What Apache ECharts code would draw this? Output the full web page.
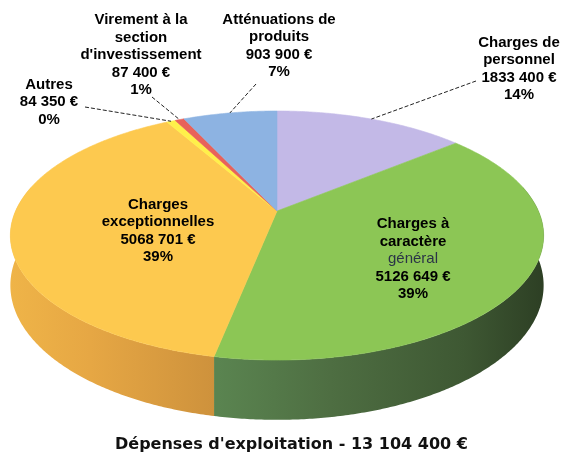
<!DOCTYPE html>
<html><head><meta charset="utf-8">
<script src="https://cdn.jsdelivr.net/npm/echarts@6/dist/echarts.min.js"></script>
<style>html,body{margin:0;padding:0;background:#fff}#c{width:563px;height:460px}</style>
</head><body><div id="c"></div>
<script>
// ---- data ----
const categories = ['Charges de personnel', 'Charges à caractère général', 'Charges exceptionnelles', 'Autres', "Virement à la section d'investissement", 'Atténuations de produits'];
const values = [1833400, 5126649, 5068701, 84350, 87400, 903900];
const percentLabels = ['14%', '39%', '39%', '0%', '1%', '7%'];
const labelNames = ['Charges de\npersonnel', 'Charges à\ncaractère\n{n|général}', 'Charges\nexceptionnelles', 'Autres', "Virement à la\nsection\nd'investissement", 'Atténuations de\nproduits'];
const titleText = "Dépenses d'exploitation - 13 104 400 €";

// ---- styles / layout ----
const topColors = ['#c3b9e7', '#8cc655', '#fdc94f', '#fff04a', '#e8625a', '#8db3e2'];
const wallStops = [
  [[0, '#9a8fc0'], [1, '#7a70a0']],
  [[0, '#5a8450'], [0.39, '#5a8450'], [0.6, '#4e6e42'], [0.85, '#3e5833'], [1, '#2d3f24']],
  [[0, '#efb448'], [0.15, '#e6a744'], [0.39, '#cd913c'], [1, '#c08030']],
  [[0, '#e0cf30'], [1, '#c0b020']],
  [[0, '#c04a44'], [1, '#a03a34']],
  [[0, '#6d90c0'], [1, '#5a7aa8']]
];
const L = {
  cx: 277, cy: 211, rx: 261.4, ry: 119.7, depth: 48, persp: 0.197,
  font: 'Liberation Sans, Arial, sans-serif', fontSize: 15, lineHeight: 17.5,
  labels: [
    { x: 519, y: 69, lead: [476, 81] },
    { x: 413, y: 259 },
    { x: 158, y: 231 },
    { x: 49, y: 102, lead: [85, 107] },
    { x: 141, y: 55, lead: [152, 97] },
    { x: 279, y: 46, lead: [256, 84] }
  ]
};

function fmt(v) { const s = String(v); return s.slice(0, -3) + ' ' + s.slice(-3) + ' €'; }

const total = values.reduce((a, b) => a + b, 0);
const angles = [];
(function () {
  let acc = 90;
  values.forEach(v => { const sw = v / total * 360; angles.push([acc, acc - sw]); acc -= sw; });
})();

// perspective projection of a point on the (tilted) disc
function P(tDeg, r, dz) {
  const t = tDeg * Math.PI / 180;
  const c = Math.cos(t) * r, s = Math.sin(t) * r;
  const w = 1 / (1 + L.persp * s);
  return [L.cx + L.rx * c * w, L.cy - L.ry * s * w + (dz || 0) * w];
}

function renderItem(params, api) {
  const i = params.dataIndex;
  const [tS, tE] = angles[i];
  const children = [];
  // walls (front, visible part)
  for (let k = -1; k <= 1; k++) {
    const lo = Math.max(tE, -192 + 360 * k), hi = Math.min(tS, 12 + 360 * k);
    if (lo < hi) {
      const topPts = [], botPts = [];
      const n = Math.max(2, Math.ceil((hi - lo) / 0.5));
      for (let j = 0; j <= n; j++) {
        const t = hi - (hi - lo) * j / n;
        topPts.push(P(t, 1, 0));
        botPts.push(P(t, 1, L.depth));
      }
      const pts = topPts.concat(botPts.reverse());
      children.push({
        type: 'polygon', z2: 1,
        shape: { points: pts },
        style: {
          fill: { type: 'linear', x: 10, y: 0, x2: 544, y2: 0, global: true,
            colorStops: wallStops[i].map(s => ({ offset: s[0], color: s[1] })) },
          stroke: null
        }
      });
    }
  }
  // top face
  const pts = [[L.cx, L.cy]];
  const n = Math.max(2, Math.ceil((tS - tE) / 0.5));
  for (let j = 0; j <= n; j++) pts.push(P(tS - (tS - tE) * j / n, 1, 0));
  children.push({
    type: 'polygon', z2: 5,
    shape: { points: pts },
    style: { fill: topColors[i], stroke: topColors[i], lineWidth: 0.6 }
  });
  // leader line
  const lab = L.labels[i];
  if (lab.lead) {
    const end = P((tS + tE) / 2, 1, 0);
    children.push({
      type: 'polyline', z2: 10,
      shape: { points: [lab.lead, end] },
      style: { stroke: '#222', lineWidth: 1, lineDash: [4, 2], fill: null }
    });
  }
  // label
  children.push({
    type: 'text', z2: 20, x: lab.x, y: lab.y,
    style: {
      text: labelNames[i] + '\n' + fmt(api.value(0)) + '\n' + percentLabels[i],
      fill: '#000', fontFamily: L.font, fontSize: L.fontSize, fontWeight: 'bold',
      lineHeight: L.lineHeight, align: 'center', verticalAlign: 'middle',
      rich: { n: { fontFamily: L.font, fontSize: L.fontSize, fontWeight: 'normal', fill: '#2b3447', lineHeight: L.lineHeight } }
    }
  });
  return { type: 'group', children };
}

const chart = echarts.init(document.getElementById('c'), null, { renderer: 'canvas' });
chart.setOption({
  animation: false,
  backgroundColor: '#fff',
  title: {
    text: titleText, left: 115, top: 437, padding: 0,
    textStyle: { fontFamily: 'DejaVu Sans, sans-serif', fontWeight: 'bold', fontSize: 16, color: '#111' }
  },
  series: [{
    type: 'custom', coordinateSystem: 'none', silent: true,
    data: values.map((v, i) => ({ name: categories[i], value: [v] })),
    renderItem
  }]
});
</script>
</body></html>
